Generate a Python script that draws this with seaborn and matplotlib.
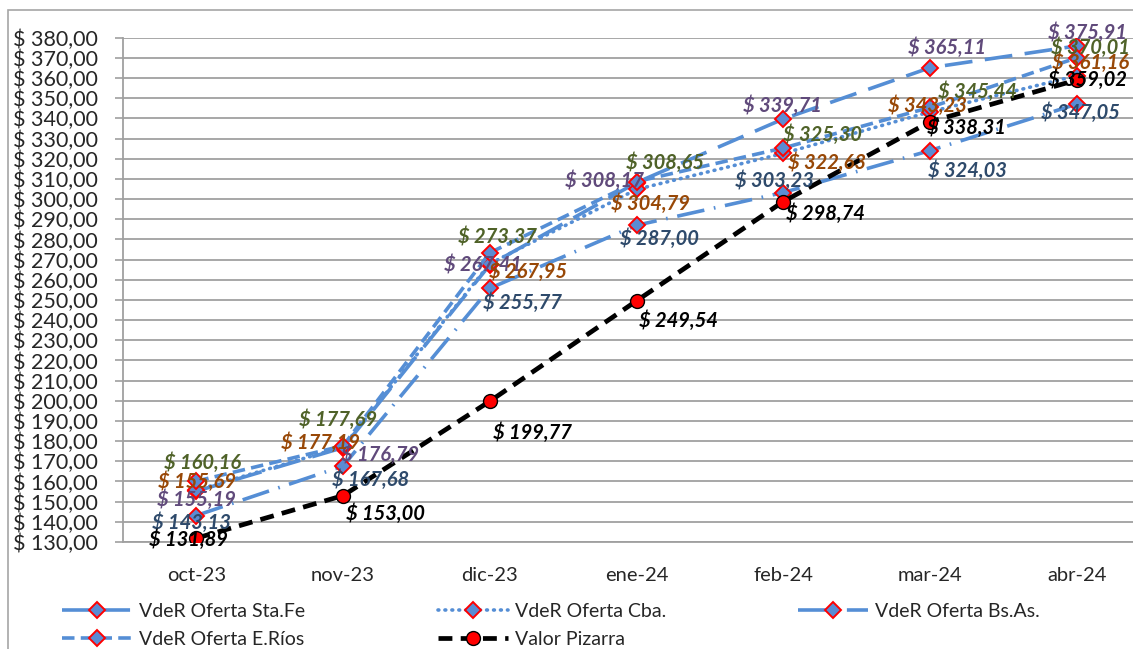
import matplotlib
matplotlib.use("Agg")
import matplotlib.pyplot as plt
import seaborn as sns
import numpy as np
import pandas as pd
from matplotlib.patches import Rectangle

months = ["oct-23", "nov-23", "dic-23", "ene-24", "feb-24", "mar-24", "abr-24"]
sta_fe = [155.19, 176.79, 267.41, 308.17, 339.71, 365.11, 375.91]
cba = [155.69, 177.19, 267.95, 304.79, 322.63, 343.23, 361.16]
bs_as = [143.13, 167.68, 255.77, 287.00, 303.23, 324.03, 347.05]
e_rios = [160.16, 177.69, 273.37, 308.65, 325.30, 345.44, 370.01]
pizarra = [131.89, 153.00, 199.77, 249.54, 298.74, 338.31, 359.02]
series_names = ["VdeR Oferta Sta.Fe", "VdeR Oferta Cba.", "VdeR Oferta Bs.As.",
                "VdeR Oferta E.Ríos", "Valor Pizarra"]
series_values = [sta_fe, cba, bs_as, e_rios, pizarra]

# styles
BLUE = "#558ED5"
MFACE = "#5B8BD3"
label_colors = ["#604A7B", "#984807", "#2E4A6B", "#4F6228", "#000000"]
line_styles = [(0, (20, 9)), (0, (0.6, 4.4)), (0, (20, 7, 1.2, 7)), (0, (9, 4.5)), (0, (10, 6))]
capstyles = ["butt", "round", "butt", "butt", "butt"]

# label offsets in pixels (dx right, dy down)
offsets = [
    [(0, 9), (37, 7), (-7, 0), (-32, -2), (-1, -13), (17, -20), (11, -13)],
    [(1, -8), (-23, -4), (38, 8), (14, 14), (44, 9), (-2, -6), (14, -13)],
    [(-5, 7), (27, 14), (33, 14), (23, 13), (-9, -12), (38, 20), (4, 9)],
    [(6, -18), (-5, -26), (8, -16), (29, -19), (39, -13), (48, -16), (14, -10)],
    [(-8, 2), (42, 18), (43, 31), (42, 20), (42, 12), (37, 6), (11, 0)],
]

sns.set_theme(style="white")
plt.rcParams["font.family"] = ["Lato", "DejaVu Sans"]
plt.rcParams["lines.scale_dashes"] = False

fig = plt.figure(figsize=(11.33, 6.49), dpi=100)
ax = fig.add_axes([123 / 1133, 107 / 649, 1027 / 1133, 504.3 / 649])

for k, (name, vals) in enumerate(zip(series_names, series_values)):
    df = pd.DataFrame({"mes": months, "valor": vals})
    if k < 4:
        sns.lineplot(data=df, x="mes", y="valor", ax=ax, sort=False, label=name,
                     color=BLUE, linewidth=2.6, linestyle=line_styles[k],
                     dash_capstyle=capstyles[k], marker="D", markersize=8.5,
                     markerfacecolor=MFACE, markeredgecolor="#FF0000",
                     markeredgewidth=1.4, zorder=3 + k)
    else:
        sns.lineplot(data=df, x="mes", y="valor", ax=ax, sort=False, label=name,
                     color="black", linewidth=3.4, linestyle=line_styles[k],
                     marker="o", markersize=10, markerfacecolor="#FF0000",
                     markeredgecolor="black", markeredgewidth=1.0, zorder=8)
    for i, v in enumerate(vals):
        dx, dy = offsets[k][i]
        txt = "$ " + f"{v:.2f}".replace(".", ",")
        ax.annotate(txt, (i, v), xytext=(dx, -dy), textcoords="offset pixels",
                    ha="center", va="center", fontsize=14.5, fontweight="bold",
                    fontstyle="italic", color=label_colors[k], zorder=10)

ax.set_xlim(-0.5, 6.5)
ax.set_ylim(130, 380)
yt = np.arange(130, 381, 10)
ax.set_yticks(yt)
ax.set_yticklabels(["$ " + f"{t:.2f}".replace(".", ",") for t in yt], fontsize=15.5)
ax.yaxis.grid(True, color="#A0A0A0", linewidth=1.3)
ax.xaxis.grid(False)
ax.set_xticks(range(len(months)))
ax.set_xticklabels(months, fontsize=14.5)
ax.set_xticks(np.arange(-0.5, 7, 1), minor=True)
ax.tick_params(axis="x", which="major", length=0, pad=18)
ax.tick_params(axis="x", which="minor", length=5, color="#A0A0A0", width=1.2, direction="out")
ax.tick_params(axis="y", length=6, color="#A0A0A0", width=1.2, direction="out", pad=12)
ax.tick_params(axis="y", which="both", left=True)
for s in ["top", "right"]:
    ax.spines[s].set_visible(False)
for s in ["left", "bottom"]:
    ax.spines[s].set_color("#A0A0A0")
    ax.spines[s].set_linewidth(1.3)
ax.set_xlabel("")
ax.set_ylabel("")

handles, labels = ax.get_legend_handles_labels()
if ax.get_legend() is not None:
    ax.get_legend().remove()
hmap = dict(zip(labels, handles))

cols = [(["VdeR Oferta Sta.Fe", "VdeR Oferta E.Ríos"], 62),
        (["VdeR Oferta Cba.", "Valor Pizarra"], 438),
        (["VdeR Oferta Bs.As."], 798)]
for names, xpx in cols:
    fig.legend([hmap[n] for n in names], names, loc="upper left",
               bbox_to_anchor=(xpx / 1133, 1 - 603 / 649), frameon=False,
               fontsize=14, handlelength=3.6, handletextpad=0.35,
               labelspacing=0.55, borderpad=0, borderaxespad=0)

fig.patches.append(Rectangle((8 / 1133, -0.1), 1.2, 1 - 10 / 649 + 0.1,
                             transform=fig.transFigure, fill=False,
                             edgecolor="#A6A6A6", linewidth=1.2))

fig.savefig("out.png", dpi=100)
